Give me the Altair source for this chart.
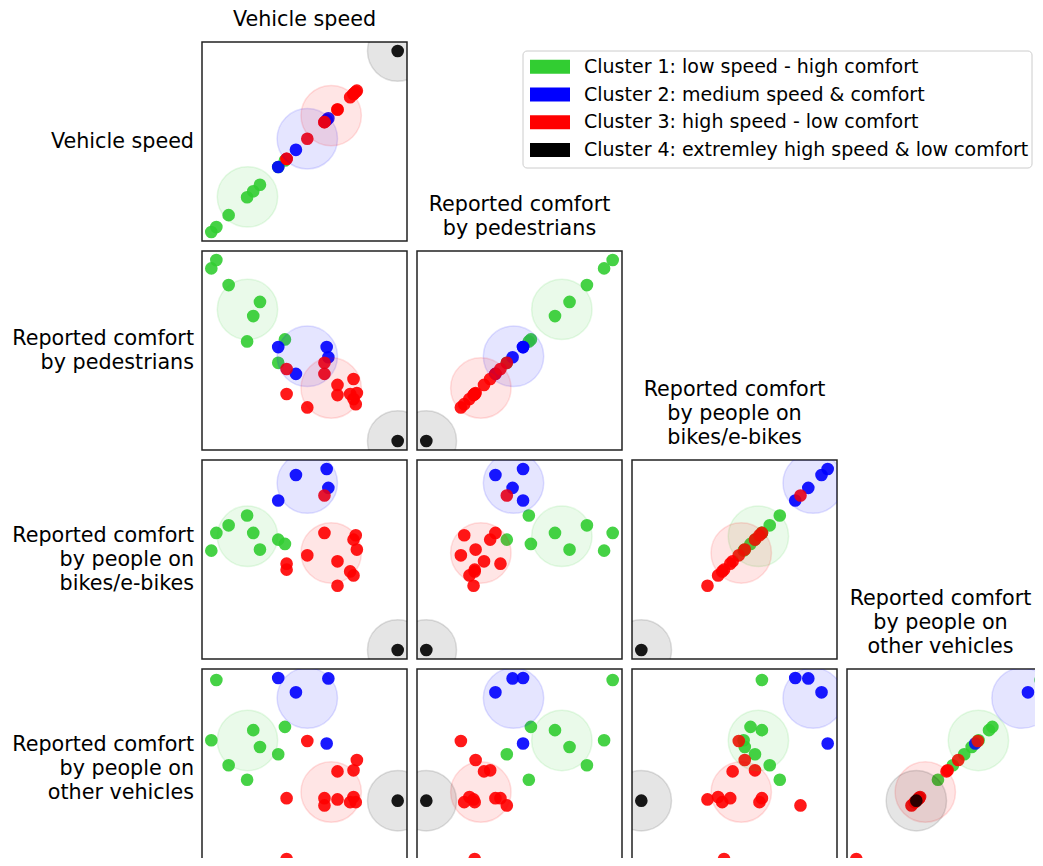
import altair as alt
import pandas as pd

# ---------------- data (normalised scores) ----------------
cluster = ["Cluster 1"] * 8 + ["Cluster 2"] * 4 + ["Cluster 3"] * 12 + ["Cluster 4"]

speed = [0.000, 0.027, 0.093, 0.192, 0.225, 0.261, 0.359, 0.395,
         0.359, 0.454, 0.619, 0.628,
         0.404, 0.404, 0.515, 0.607, 0.607, 0.677, 0.677, 0.775, 0.763, 0.781, 0.745, 0.763,
         1.000]
ped = [0.952, 0.998, 0.860, 0.549, 0.689, 0.767, 0.431, 0.560,
       0.518, 0.370, 0.518, 0.462,
       0.397, 0.259, 0.185, 0.431, 0.370, 0.309, 0.253, 0.203, 0.342, 0.264, 0.259, 0.231,
       0.000]
bike = [0.549, 0.647, 0.689, 0.743, 0.647, 0.555, 0.610, 0.586,
        0.826, 0.967, 1.000, 0.896,
        0.477, 0.444, 0.523, 0.854, 0.647, 0.490, 0.355, 0.634, 0.610, 0.555, 0.434, 0.412,
        0.000]
other = [0.656, 0.989, 0.518, 0.438, 0.712, 0.619, 0.579, 0.730,
         1.000, 0.921, 0.638, 0.998,
         0.336, 0.000, 0.652, 0.296, 0.336, 0.484, 0.329, 0.314, 0.490, 0.547, 0.314, 0.342,
         0.322]

cluster_names = ["Cluster 1", "Cluster 2", "Cluster 3", "Cluster 4"]
cluster_colors = ["#32cd32", "#0000ff", "#ff0000", "#000000"]
legend_labels = [
    "Cluster 1: low speed - high comfort",
    "Cluster 2: medium speed & comfort",
    "Cluster 3: high speed - low comfort",
    "Cluster 4: extremley high speed & low comfort",
]
var_fields = ["speed", "ped", "bike", "other"]
var_titles = [
    ["Vehicle speed"],
    ["Reported comfort", "by pedestrians"],
    ["Reported comfort", "by people on", "bikes/e-bikes"],
    ["Reported comfort", "by people on", "other vehicles"],
]

df = pd.DataFrame({"cluster": cluster, "speed": speed, "ped": ped,
                   "bike": bike, "other": other})
# cluster centroids = mean of each cluster's members
cen_df = df.groupby("cluster", as_index=False)[var_fields].mean()

W, H = 205, 199
FONT = "DejaVu Sans"
LABEL_SIZE = 20.7
LINE_H = 24
color_scale = alt.Scale(domain=cluster_names, range=cluster_colors)
no_frame = alt.ViewBackground(stroke="transparent")


def dom(f):
    lo, hi = float(df[f].min()), float(df[f].max())
    r = hi - lo
    return [lo - 0.05 * r, hi + 0.05 * r]


def text_layer(lines, x, y_first, align):
    return alt.Chart(pd.DataFrame({"t": ["\n".join(lines)]})).mark_text(
        align=align, baseline="middle", fontSize=LABEL_SIZE, font=FONT,
        lineBreak="\n", lineHeight=LINE_H, color="black"
    ).encode(text="t:N", x=alt.value(x), y=alt.value(y_first))


def panel(r, c):
    xf, yf = var_fields[c], var_fields[r]
    xs = alt.Scale(domain=dom(xf), nice=False, zero=False)
    ys = alt.Scale(domain=dom(yf), nice=False, zero=False)
    pts = alt.Chart(df).mark_circle(size=160, opacity=0.9, clip=True).encode(
        x=alt.X(f"{xf}:Q", scale=xs, axis=None),
        y=alt.Y(f"{yf}:Q", scale=ys, axis=None),
        color=alt.Color("cluster:N", scale=color_scale, legend=None),
    )
    cen = alt.Chart(cen_df).mark_circle(
        size=3650, opacity=1, fillOpacity=0.1, strokeOpacity=0.12,
        strokeWidth=1.5, clip=True
    ).encode(
        x=alt.X(f"{xf}:Q", scale=xs, axis=None),
        y=alt.Y(f"{yf}:Q", scale=ys, axis=None),
        color=alt.Color("cluster:N", scale=color_scale, legend=None),
        stroke=alt.Stroke("cluster:N", scale=color_scale, legend=None),
    )
    layers = [pts, cen]
    n = len(var_titles[r])
    if c == 0:
        layers.append(text_layer(var_titles[r], -8, H / 2 - (n - 1) * LINE_H / 2, "right"))
    if r == c:
        # the last column's title is nudged left so it stays inside the page
        cx = W / 2 - (9 if c == 3 else 0)
        layers.append(text_layer(var_titles[r], cx, -22.5 - (n - 1) * LINE_H, "center"))
    return alt.layer(*layers).properties(width=W, height=H)


def empty():
    return alt.Chart(pd.DataFrame({"a": [0]})).mark_point(opacity=0).encode(
        x=alt.value(0), y=alt.value(0)
    ).properties(width=W, height=H, view=no_frame)


# ---------------- legend (sits in the empty cell right of the first panel) ----------------
LX = 106  # left edge of the legend box inside that cell
leg_df = pd.DataFrame({"cluster": cluster_names, "label": legend_labels,
                       "order": list(range(len(legend_labels)))})
# rows 27.8 px apart, first row 24.7 px below the cell top
leg_y = alt.Y("order:Q", axis=None,
              scale=alt.Scale(domain=[-24.7 / 27.8, -24.7 / 27.8 + H / 27.8],
                              reverse=True, nice=False, zero=False))
box = alt.Chart(pd.DataFrame({"a": [0]})).mark_rect(
    fill="white", stroke="#cccccc", strokeWidth=1, cornerRadius=4
).encode(x=alt.value(LX), x2=alt.value(LX + 509), y=alt.value(9), y2=alt.value(126))
swatch = alt.Chart(leg_df).mark_rule(strokeWidth=14, strokeCap="butt").encode(
    x=alt.value(LX + 7), x2=alt.value(LX + 47), y=leg_y,
    color=alt.Color("cluster:N", scale=color_scale, legend=None),
)
leg_text = alt.Chart(leg_df).mark_text(
    align="left", baseline="middle", fontSize=19.0, font=FONT, color="black"
).encode(x=alt.value(LX + 61), y=leg_y, text="label:N")
legend = alt.layer(box, swatch, leg_text).properties(width=W, height=H, view=no_frame)

# ---------------- layout: 4x4 grid, lower triangle ----------------
cells = []
for r in range(4):
    for c in range(4):
        if c <= r:
            cells.append(panel(r, c))
        elif r == 0 and c == 1:
            cells.append(legend)
        else:
            cells.append(empty())

# the figure is cropped at the right and bottom edge like the reference
chart = alt.concat(*cells, columns=4, spacing=10, bounds="flush").properties(
    autosize=alt.AutoSizeParams(type="none"),
    padding={"left": 194, "top": 34, "right": 833, "bottom": 816},
    background="white",
).configure_view(stroke="#222222", strokeWidth=1.5)

chart.save("out.html", embed_options={"renderer": "svg", "actions": False})
